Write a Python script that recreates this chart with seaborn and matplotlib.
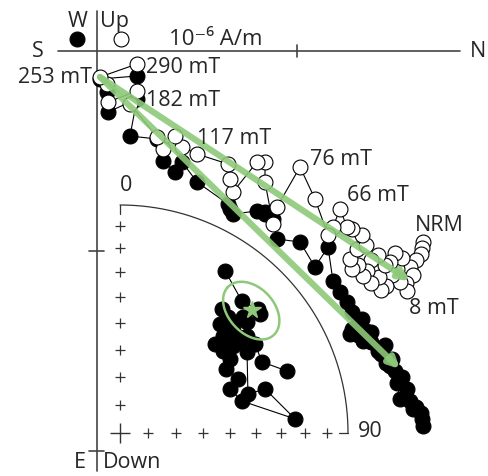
import numpy as np
import pandas as pd
import matplotlib.pyplot as plt
import seaborn as sns

# Zijderveld data, units of 1e-6 A/m, NRM first -> 290 mT last
north = [1.630, 1.625, 1.620, 1.595, 1.565, 1.580, 1.545, 1.550, 1.515, 1.500,
         1.525, 1.490, 1.465, 1.475, 1.445, 1.420, 1.410, 1.440, 1.405, 1.370,
         1.350, 1.370, 1.330, 1.305, 1.275, 1.265, 1.300, 1.345, 1.325, 1.275,
         1.250, 1.215, 1.180, 1.155, 1.090, 1.015, 0.900, 0.880, 0.840, 0.840,
         0.800, 0.680, 0.665, 0.655, 0.500, 0.425, 0.390, 0.330, 0.300, 0.165,
         0.200, 0.055, 0.050, 0.015, 0.200]
up = [-0.955, -0.985, -1.015, -1.045, -1.080, -1.120, -1.160, -1.200, -1.155, -1.090,
      -1.035, -1.010, -1.055, -1.120, -1.175, -1.195, -1.130, -1.070, -1.020, -1.045,
      -1.100, -1.160, -1.125, -1.070, -1.090, -1.040, -0.990, -0.970, -0.920, -0.890,
      -0.880, -0.790, -0.880, -0.920, -0.740, -0.580, -0.780, -0.865, -0.655, -0.555,
      -0.555, -0.705, -0.640, -0.565, -0.515, -0.480, -0.425, -0.490, -0.430, -0.265,
      -0.200, -0.255, -0.165, -0.130, -0.065]
west = [-1.875, -1.840, -1.810, -1.780, -1.750, -1.790, -1.730, -1.690, -1.740, -1.660,
        -1.630, -1.600, -1.575, -1.540, -1.560, -1.515, -1.490, -1.470, -1.500, -1.455,
        -1.430, -1.405, -1.450, -1.420, -1.390, -1.415, -1.370, -1.400, -1.340, -1.305,
        -1.255, -1.205, -1.150, -0.980, -1.080, -0.955, -0.940, -0.840, -0.815, -0.805,
        -0.800, -0.815, -0.790, -0.765, -0.655, -0.555, -0.605, -0.550, -0.440, -0.425,
        -0.240, -0.305, -0.205, -0.140, -0.125]

# step labels: text, step index, series, offset (px), alignment
step_labels = [('NRM', 0, 'up', -8, 17, 'left'),
               ('8 mT', 7, 'up', 2, -17, 'left'),
               ('66 mT', 31, 'up', 7, 14, 'left'),
               ('76 mT', 35, 'up', 10, 8, 'left'),
               ('117 mT', 45, 'up', 15, 9, 'left'),
               ('182 mT', 50, 'west', 9, -1, 'left'),
               ('253 mT', 53, 'up', -8, 0, 'right'),
               ('290 mT', 54, 'up', 9, -3, 'left')]

# fitted components (start / end of the arrows)
fit_start = (0.015, -0.13)
fit_up_end = (1.565, -1.15)
fit_west_end = (1.515, -1.59)

# equal-area inset: directions of the steps (lower hemisphere)
dec = [33.0, 42.7, 48.1, 49.6, 46.7, 48.8, 43.0, 39.4, 42.5, 46.6,
       46.9, 46.7, 50.3, 52.6, 52.5, 51.5, 52.4, 56.1, 58.9, 65.4,
       68.2, 75.3, 85.4, 73.1, 73.1, 57.5, 56.6, 63.4, 69.6]
inc = [16.4, 22.3, 19.8, 20.6, 26.7, 26.9, 31.1, 30.3, 35.4, 32.3,
       42.4, 38.0, 33.8, 30.6, 34.1, 41.8, 37.5, 41.5, 44.8, 42.5,
       46.9, 44.0, 24.0, 33.9, 41.0, 34.3, 29.8, 31.0, 23.0]
mean_dec, mean_inc, a95 = 47.0, 22.0, 9.8
grid_inc = [10, 20, 30, 40, 50, 60, 70, 80]

green = '#8ec97a'
net_x, net_y, net_r = 0.115, -1.91, 1.14
dot = 115

sns.set_theme(style='white')
plt.rcParams['font.family'] = ['Open Sans', 'DejaVu Sans']

fig = plt.figure(figsize=(4.89, 4.77), dpi=100)
ax = fig.add_axes([0, 0, 1, 1])
ax.set_xlim(-0.485, 1.96)
ax.set_ylim(-2.125, 0.26)
ax.axis('off')

# axes of the orthogonal plot
ax.plot([-0.195, 1.815], [0, 0], color='#444444', lw=1.2, zorder=1)
ax.plot([0, 0], [0.2, -2.1], color='#444444', lw=1.2, zorder=1)
ax.plot([1, 1], [-0.03, 0.03], color='#444444', lw=1.2)
for yt in [-1, -2]:
    ax.plot([-0.04, 0.035], [yt, yt], color='#444444', lw=1.2)

df = pd.DataFrame({'north': north, 'up': up, 'west': west})

sns.lineplot(data=df, x='north', y='west', sort=False, estimator=None,
             color='black', lw=0.8, ax=ax, zorder=2)
sns.scatterplot(data=df, x='north', y='west', color='black', edgecolor='black',
                s=dot, linewidth=0.8, ax=ax, zorder=3)
sns.lineplot(data=df, x='north', y='up', sort=False, estimator=None,
             color='black', lw=0.8, ax=ax, zorder=4)
sns.scatterplot(data=df, x='north', y='up', color='white', edgecolor='black',
                s=dot, linewidth=0.8, ax=ax, zorder=5)

for end in [fit_up_end, fit_west_end]:
    ax.annotate('', xy=end, xytext=fit_start, zorder=6,
                arrowprops=dict(arrowstyle='-|>,head_length=0.5,head_width=0.25',
                                color=green, lw=4.5, alpha=0.9,
                                shrinkA=0, shrinkB=0))

fs = 15.5
for txt, i, col, dx, dy, ha in step_labels:
    ax.annotate(txt, xy=(df['north'][i], df[col][i]), xytext=(dx, dy),
                textcoords='offset pixels', ha=ha, va='center', fontsize=fs, zorder=7)

ax.text(-0.295, 0, 'S', ha='center', va='center', fontsize=fs)
ax.text(1.905, 0, 'N', ha='center', va='center', fontsize=fs)
ax.text(-0.095, 0.15, 'W', ha='center', va='center', fontsize=fs)
ax.text(0.015, 0.15, 'Up', ha='left', va='center', fontsize=fs)
ax.text(-0.085, -2.055, 'E', ha='center', va='center', fontsize=fs)
ax.text(0.03, -2.055, 'Down', ha='left', va='center', fontsize=fs)
ax.text(0.36, 0.06, '10⁻⁶ A/m', ha='left', va='center', fontsize=16)
ax.scatter([-0.1], [0.06], s=dot, color='black', edgecolor='black', linewidth=0.8)
ax.scatter([0.12], [0.06], s=dot, color='white', edgecolor='black', linewidth=0.8)


def schmidt(d, i):
    d = np.radians(np.asarray(d, dtype=float))
    i = np.radians(np.asarray(i, dtype=float))
    r = net_r * np.sqrt(1 - np.sin(i))
    return net_x + r * np.sin(d), net_y + r * np.cos(d)


# quarter net
arc_d = np.linspace(0, 90, 200)
ax_, ay_ = schmidt(arc_d, np.zeros_like(arc_d))
ax.plot(ax_, ay_, color='#333333', lw=0.9)
ax.plot([net_x, net_x], [net_y + net_r, net_y + net_r - 0.045], color='#333333', lw=0.9)
ax.plot([net_x + net_r, net_x + net_r - 0.045], [net_y, net_y], color='#333333', lw=0.9)
for d0 in [0, 90]:
    gx, gy = schmidt([d0] * len(grid_inc), grid_inc)
    ax.plot(gx, gy, '+', color='#333333', ms=7, mew=0.9, ls='none')
ax.plot([net_x], [net_y], '+', color='#333333', ms=14, mew=1.0)
ax.text(net_x + 0.03, net_y + net_r + 0.1, '0', ha='center', va='center', fontsize=fs)
ax.text(net_x + net_r + 0.05, net_y + 0.01, '90', ha='left', va='center', fontsize=fs)

px, py = schmidt(dec, inc)
inset = pd.DataFrame({'x': px, 'y': py})
sns.lineplot(data=inset, x='x', y='y', sort=False, estimator=None,
             color='black', lw=0.8, ax=ax, zorder=2)
sns.scatterplot(data=inset, x='x', y='y', color='black', edgecolor='black',
                s=dot, linewidth=0.8, ax=ax, zorder=3)

# a95 circle around the mean direction
md, mi = np.radians(mean_dec), np.radians(mean_inc)
m = np.array([np.cos(mi) * np.cos(md), np.cos(mi) * np.sin(md), np.sin(mi)])
u = np.cross(m, [0, 0, 1.0])
u /= np.linalg.norm(u)
v = np.cross(m, u)
t = np.linspace(0, 2 * np.pi, 200)
a = np.radians(a95)
pts = np.cos(a) * m[:, None] + np.sin(a) * (np.outer(u, np.cos(t)) + np.outer(v, np.sin(t)))
cd = np.degrees(np.arctan2(pts[1], pts[0]))
ci = np.degrees(np.arcsin(pts[2]))
ex, ey = schmidt(cd, ci)
ax.plot(ex, ey, color=green, lw=1.8, zorder=6)
sx, sy = schmidt(mean_dec, mean_inc)
ax.plot([sx], [sy], marker='*', color=green, ms=13, mec=green, zorder=7)

ax.set_xlabel('')
ax.set_ylabel('')
fig.savefig('out.png', dpi=100, facecolor='white')
